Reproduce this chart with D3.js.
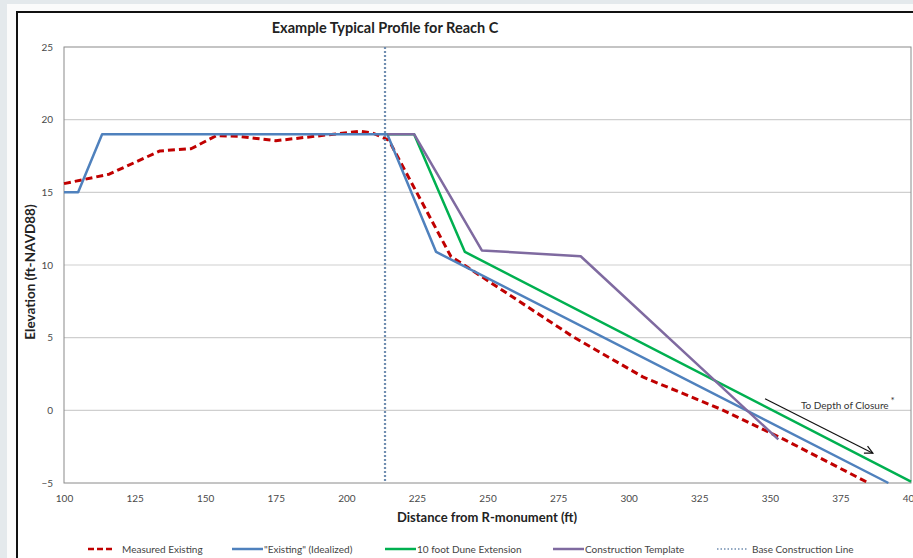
<!DOCTYPE html>
<html>
<head>
<meta charset="utf-8">
<script src="https://cdn.jsdelivr.net/npm/d3@7"></script>
<style>
body { margin:0; background:#e4e9ec; overflow:hidden; }
svg { display:block; }
text { font-family: Lato, "Open Sans", sans-serif; }
</style>
</head>
<body>
<svg id="chart"></svg>
<script>
// values (distance ft, elevation ft-NAVD88)
var measuredX = [100, 116, 134, 145, 154, 162, 175, 193, 205, 209, 215, 237, 280, 305, 333, 355, 385]
var measuredY = [15.6, 16.25, 17.85, 18.0, 18.9, 18.85, 18.55, 18.95, 19.2, 19.1, 18.6, 10.6, 5.1, 2.3, 0.05, -2.0, -5.0]

var idealX = [100, 105, 113.5, 214.5, 231.8, 392]
var idealY = [15, 15, 19, 19, 10.9, -5]

var duneX = [214.5, 224, 242, 400]
var duneY = [19, 19, 10.9, -4.9]

var templateX = [214.5, 224, 248, 283, 353]
var templateY = [19, 19, 11, 10.6, -2.0]

var baseLineX = 213.7

var xTicks = [100, 125, 150, 175, 200, 225, 250, 275, 300, 325, 350, 375, 400]
var yTicks = [-5, 0, 5, 10, 15, 20, 25]
var gridTicks = [0, 5, 10, 15, 20]

var seriesNames = ["Measured Existing", "\"Existing\"  (Idealized)", "10 foot Dune Extension", "Construction Template", "Base Construction Line"]
var seriesColors = ["#c00000", "#4f81bd", "#00b050", "#7f6aa0", "#6f8db0"]

var arrowFrom = [348.3, 0.8]
var arrowTo = [386.5, -2.95]
var noteAt = [361, 0.1]

var width = 913, height = 558
var margin = {top:47, left:64, bottom:75, right:2}

var svg = d3.select("#chart")
  .attr("width", width)
  .attr("height", height)

// scanned page look: white sheet + black frame
svg.append("rect").attr("x", 7).attr("y", 4).attr("width", width).attr("height", height).attr("fill", "#fbfbfb")
svg.append("rect").attr("x", 17).attr("y", 12).attr("width", width).attr("height", height + 20)
  .attr("fill", "#fff").attr("stroke", "#111").attr("stroke-width", 2)

var x = d3.scaleLinear().domain([100, 400]).range([margin.left, width - margin.right])
var y = d3.scaleLinear().domain([-5, 25]).range([height - margin.bottom, margin.top])

// grid
svg.append("g").selectAll("line")
  .data(gridTicks).enter().append("line")
  .attr("x1", x(100)).attr("x2", x(400))
  .attr("y1", function(d){ return y(d) }).attr("y2", function(d){ return y(d) })
  .attr("stroke", "#cfcfcf").attr("stroke-width", 1.2)

svg.append("rect")
  .attr("x", x(100)).attr("y", y(25))
  .attr("width", x(400) - x(100)).attr("height", y(-5) - y(25))
  .attr("fill", "none").attr("stroke", "#8a8a8a").attr("stroke-width", 1)

// axes
var yAxis = svg.append("g")
  .attr("transform", "translate(" + x(100) + ",0)")
  .call(d3.axisLeft(y).tickValues(yTicks).tickSize(0).tickPadding(11))
yAxis.select(".domain").remove()
yAxis.selectAll("text").attr("font-size", 10).attr("fill", "#4a4a4a").style("font-family", "Lato, sans-serif")

var xAxis = svg.append("g")
  .attr("transform", "translate(0," + y(-5) + ")")
  .call(d3.axisBottom(x).tickValues(xTicks).tickSize(0).tickPadding(12))
xAxis.select(".domain").remove()
xAxis.selectAll("text").attr("font-size", 10).attr("fill", "#4a4a4a").style("font-family", "Lato, sans-serif")

// titles
svg.append("text")
  .attr("x", 385).attr("y", 33)
  .attr("text-anchor", "middle")
  .attr("font-size", 14.5).attr("font-weight", "bold").attr("fill", "#222")
  .text("Example Typical Profile for Reach C")

svg.append("text")
  .attr("transform", "translate(35,272) rotate(-90)")
  .attr("text-anchor", "middle")
  .attr("font-size", 13.5).attr("font-weight", "bold").attr("fill", "#222")
  .text("Elevation (ft-NAVD88)")

svg.append("text")
  .attr("x", 487).attr("y", 522)
  .attr("text-anchor", "middle")
  .attr("font-size", 13).attr("font-weight", "bold").attr("fill", "#222")
  .text("Distance from R-monument (ft)")

// series
function pairs(xs, ys){ return xs.map(function(v, i){ return [v, ys[i]] }) }
var line = d3.line().x(function(d){ return x(d[0]) }).y(function(d){ return y(d[1]) })

var series = [
  {pts: pairs(measuredX, measuredY), color: seriesColors[0], w: 3, dash: "7,4"},
  {pts: pairs(idealX, idealY), color: seriesColors[1], w: 2.5, dash: null},
  {pts: pairs(duneX, duneY), color: seriesColors[2], w: 2.5, dash: null},
  {pts: pairs(templateX, templateY), color: seriesColors[3], w: 2.5, dash: null}
]

svg.append("g").selectAll("path")
  .data(series).enter().append("path")
  .attr("d", function(d){ return line(d.pts) })
  .attr("fill", "none")
  .attr("stroke", function(d){ return d.color })
  .attr("stroke-width", function(d){ return d.w })
  .attr("stroke-dasharray", function(d){ return d.dash })
  .attr("stroke-linejoin", "round")

svg.append("line")
  .attr("x1", x(baseLineX)).attr("x2", x(baseLineX))
  .attr("y1", y(25)).attr("y2", y(-5))
  .attr("stroke", seriesColors[4]).attr("stroke-width", 2.2).attr("stroke-dasharray", "2,2")

// annotation arrow
svg.append("defs").append("marker")
  .attr("id", "arrow").attr("viewBox", "0 0 10 10")
  .attr("refX", 9).attr("refY", 5)
  .attr("markerWidth", 10).attr("markerHeight", 10)
  .attr("markerUnits", "userSpaceOnUse")
  .attr("orient", "auto")
  .append("path").attr("d", "M1,1 L9,5 L1,9")
  .attr("fill", "none").attr("stroke", "#111").attr("stroke-width", 1.2)

svg.append("line")
  .attr("x1", x(arrowFrom[0])).attr("y1", y(arrowFrom[1]))
  .attr("x2", x(arrowTo[0])).attr("y2", y(arrowTo[1]))
  .attr("stroke", "#111").attr("stroke-width", 1.2)
  .attr("marker-end", "url(#arrow)")

var note = svg.append("text")
  .attr("x", x(noteAt[0])).attr("y", y(noteAt[1]))
  .attr("font-size", 10).attr("fill", "#333")
note.append("tspan").text("To Depth of Closure")
note.append("tspan").attr("dx", 2).attr("dy", -5).attr("font-size", 10).text("*")

// legend
var legendX = [88, 232, 385, 553, 717]
var legend = svg.append("g").selectAll("g")
  .data(seriesNames).enter().append("g")
  .attr("transform", function(d, i){ return "translate(" + legendX[i] + ",549)" })

legend.append("line")
  .attr("x1", 0).attr("x2", function(d, i){ return i == 0 ? 27 : 31 })
  .attr("stroke", function(d, i){ return seriesColors[i] })
  .attr("stroke-width", function(d, i){ return i == 4 ? 1.5 : 2.5 })
  .attr("stroke-dasharray", function(d, i){ return i == 0 ? "6,3" : (i == 4 ? "1.5,2" : null) })

legend.append("text")
  .attr("x", function(d, i){ return i == 0 ? 34 : (i == 4 ? 35 : 32) })
  .attr("y", 4)
  .attr("font-size", 10).attr("fill", "#444")
  .text(function(d){ return d })
</script>
</body>
</html>
